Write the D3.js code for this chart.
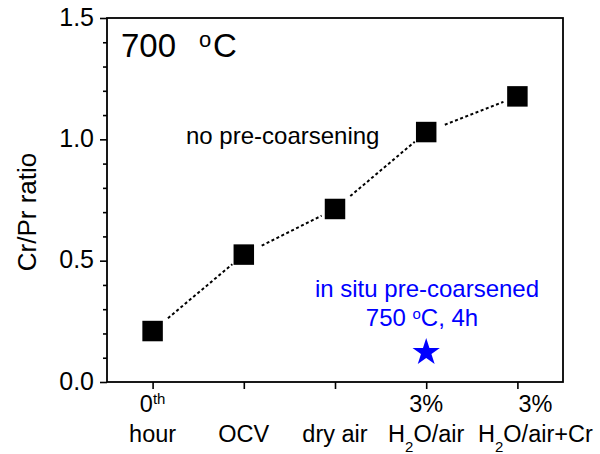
<!DOCTYPE html>
<html>
<head>
<meta charset="utf-8">
<script src="https://cdn.jsdelivr.net/npm/d3@7"></script>
<style>
  html, body { margin: 0; padding: 0; background: #fff; }
  svg { display: block; font-family: "Liberation Sans", Arial, sans-serif; }
</style>
</head>
<body>
<svg id="chart" width="600" height="454"></svg>
<script>
// ---- data ----
const categories = ["0th hour", "OCV", "dry air", "3% H2O/air", "3% H2O/air+Cr"];
const labelLine1 = ["0^th", "", "", "3%", "3%"];
const labelLine2 = ["hour", "OCV", "dry air", "H_2O/air", "H_2O/air+Cr"];
const crPrRatio = [0.21, 0.525, 0.713, 1.03, 1.177];           // no pre-coarsening
const preCoarsenedCategory = ["3% H2O/air"];
const preCoarsenedRatio = [0.122];                              // in situ pre-coarsened
const yDomain = [0, 1.5];
const yMajorTicks = [0.0, 0.5, 1.0, 1.5];
const yMinorTicks = [0.1, 0.2, 0.3, 0.4, 0.6, 0.7, 0.8, 0.9, 1.1, 1.2, 1.3, 1.4];

// ---- layout ----
const W = 600, H = 454;
const margin = { left: 107, top: 18, right: 37, bottom: 72 };
const svg = d3.select("#chart");

const x = d3.scalePoint().domain(categories)
  .range([margin.left, W - margin.right]).padding(0.5);
const y = d3.scaleLinear().domain(yDomain)
  .range([H - margin.bottom, margin.top]);

// rich text helper: ^letters superscript, _digits subscript
function richText(sel, str, baseSize, smallSize, supShift, subShift) {
  const re = /\^([a-z]+)|_(\d+)|([^^_]+)/g;
  let m, cur = 0;
  while ((m = re.exec(str)) !== null) {
    let txt, size, shift;
    if (m[1] !== undefined) { txt = m[1]; size = smallSize; shift = supShift; }
    else if (m[2] !== undefined) { txt = m[2]; size = smallSize; shift = subShift; }
    else { txt = m[3]; size = baseSize; shift = 0; }
    sel.append("tspan").attr("dy", shift - cur).attr("font-size", size).text(txt);
    cur = shift;
  }
}

// ---- y axis (major + minor ticks) ----
const yAxis = svg.append("g")
  .attr("transform", `translate(${margin.left},0)`)
  .call(d3.axisLeft(y).tickValues(yMajorTicks).tickSize(7).tickPadding(6)
    .tickFormat(d3.format(".1f")));
yAxis.select(".domain").remove();
yAxis.selectAll(".tick line").attr("stroke", "#000").attr("stroke-width", 1.6);
yAxis.selectAll(".tick text")
  .attr("font-size", 25).attr("fill", "#000").attr("dy", "0.28em")
  .attr("font-family", "'Liberation Sans', Arial, sans-serif");

const yMinor = svg.append("g")
  .attr("transform", `translate(${margin.left},0)`)
  .call(d3.axisLeft(y).tickValues(yMinorTicks).tickSize(4).tickFormat(""));
yMinor.select(".domain").remove();
yMinor.selectAll(".tick line").attr("stroke", "#000").attr("stroke-width", 1.6);

// ---- x axis ----
const xAxis = svg.append("g")
  .attr("transform", `translate(0,${H - margin.bottom})`)
  .call(d3.axisBottom(x).tickSize(7).tickFormat(""));
xAxis.select(".domain").remove();
xAxis.selectAll(".tick line").attr("stroke", "#000").attr("stroke-width", 1.6);

const xLab = svg.append("g").attr("font-size", 23.5).attr("fill", "#000");
categories.forEach((c, i) => {
  const dx = (i === categories.length - 1) ? 18 : 0;
  const cx = x(c) + dx;
  if (labelLine1[i]) {
    const t = xLab.append("text").attr("x", cx).attr("y", 412)
      .attr("text-anchor", "middle");
    richText(t, labelLine1[i], 23.5, 15, -8, 10);
  }
  const t2 = xLab.append("text").attr("x", cx).attr("y", 442)
    .attr("text-anchor", "middle");
  richText(t2, labelLine2[i], 23.5, 15, -8, 10);
});

// ---- frame ----
svg.append("rect")
  .attr("x", margin.left).attr("y", margin.top)
  .attr("width", W - margin.left - margin.right)
  .attr("height", H - margin.top - margin.bottom)
  .attr("fill", "none").attr("stroke", "#000").attr("stroke-width", 1.8);

// ---- y label ----
svg.append("text")
  .attr("transform", `translate(36,212) rotate(-90)`)
  .attr("text-anchor", "middle").attr("font-size", 26).attr("fill", "#000")
  .text("Cr/Pr ratio");

// ---- dotted connecting line with gaps at symbols ----
const pts = categories.map((c, i) => [x(c), y(crPrRatio[i])]);
const segs = d3.pairs(pts).map(([a, b]) => {
  const dxp = b[0] - a[0], dyp = b[1] - a[1];
  const L = Math.hypot(dxp, dyp), ux = dxp / L, uy = dyp / L;
  return [[a[0] + ux * 20, a[1] + uy * 20], [b[0] - ux * 15, b[1] - uy * 15]];
});
svg.append("g").selectAll("path").data(segs).join("path")
  .attr("d", d => d3.line()(d))
  .attr("fill", "none").attr("stroke", "#000").attr("stroke-width", 2)
  .attr("stroke-dasharray", "3,2.5");

// ---- square markers ----
svg.append("g").selectAll("path").data(crPrRatio).join("path")
  .attr("transform", (d, i) => `translate(${x(categories[i])},${y(d)})`)
  .attr("d", d3.symbol().type(d3.symbolSquare).size(420))
  .attr("fill", "#000");

// ---- star marker ----
svg.append("g").selectAll("path").data(preCoarsenedRatio).join("path")
  .attr("transform", (d, i) => `translate(${x(preCoarsenedCategory[i])},${y(d)})`)
  .attr("d", d3.symbol().type(d3.symbolStar).size(232))
  .attr("fill", "#0000ff");

// ---- annotations ----
const title = svg.append("text").attr("y", 57).attr("fill", "#000");
title.append("tspan").attr("x", 121).attr("font-size", 33).text("700");
title.append("tspan").attr("x", 199).attr("dy", -10).attr("font-size", 22).text("o");
title.append("tspan").attr("x", 213).attr("dy", 10).attr("font-size", 33).text("C");

svg.append("text").attr("x", 186).attr("y", 144)
  .attr("font-size", 24).attr("fill", "#000").text("no pre-coarsening");

svg.append("text").attr("x", 427).attr("y", 297).attr("text-anchor", "middle")
  .attr("font-size", 24).attr("fill", "#0000ff").text("in situ pre-coarsened");

const l2 = svg.append("text").attr("x", 422).attr("y", 326).attr("text-anchor", "middle")
  .attr("font-size", 24).attr("fill", "#0000ff");
l2.append("tspan").text("750 ");
l2.append("tspan").attr("dy", -7).attr("font-size", 15).text("o");
l2.append("tspan").attr("dy", 7).text("C, 4h");
</script>
</body>
</html>
